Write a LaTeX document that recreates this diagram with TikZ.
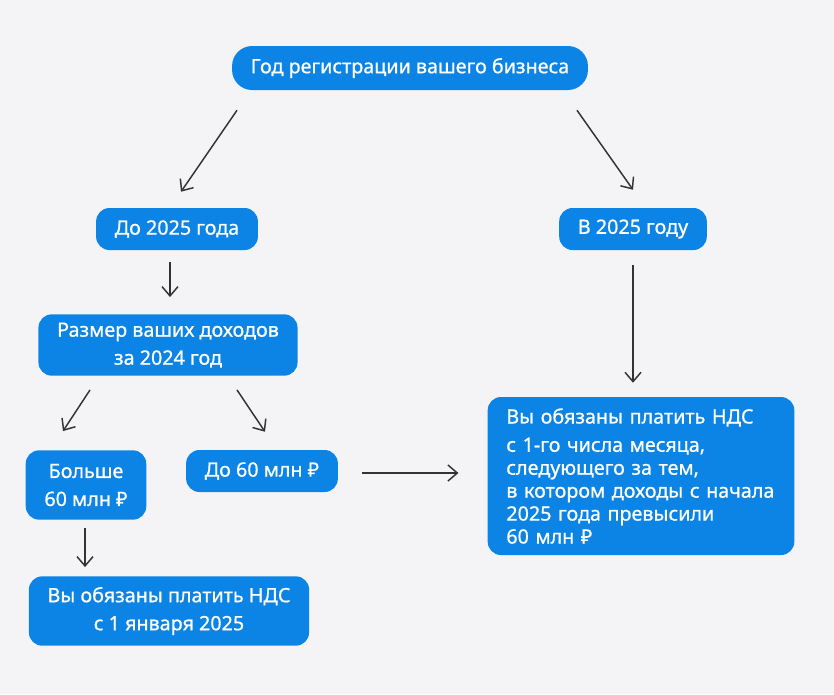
\documentclass[tikz,border=0pt]{standalone}
\usepackage{fontspec}
\setmainfont{Noto Sans}[BoldFont={Noto Sans}, BoldFeatures={FakeBold=0.8}]
\usetikzlibrary{positioning,arrows.meta}
\definecolor{boxblue}{HTML}{0B84E5}
\definecolor{pagegray}{HTML}{F4F4F7}
\definecolor{arrowgray}{HTML}{333333}

\begin{document}
\begin{tikzpicture}[x=0.75pt, y=-0.75pt, >={Straight Barb[length=7pt,width=12pt]},
  every node/.style={fill=boxblue, text=white, rounded corners=10pt, font=\fontsize{14.8}{21}\selectfont\bfseries, align=center, inner xsep=14pt, inner ysep=6pt, minimum height=31.5pt},
  arr/.style={->, line width=1.1pt, draw=arrowgray}]
  \fill[pagegray] (0,0) rectangle (834,694);
  \useasboundingbox (0,0) rectangle (834,694);

  \node[rounded corners=15pt, minimum height=33pt] (year) at (410,68) {Год регистрации вашего бизнеса};
  \node (before) at (177,229) {До 2025 года};
  \node (in2025) at (633,229) {В 2025 году};
  \node[minimum height=46pt] (income) at (168,345) {Размер ваших доходов\\за 2024 год};
  \node[minimum height=52pt] (more) at (86,485) {Больше\\60 млн ₽};
  \node (upto) at (262,471) {До 60 млн ₽};
  \node[minimum height=52pt] (vatjan) at (169,611) {Вы обязаны платить НДС\\с 1 января 2025};
  \node[align=left, text width=202pt, minimum height=118.5pt, font=\fontsize{14.8}{17.2}\selectfont\bfseries] (vatmonth) at (641,476)
    {Вы обязаны платить НДС\\[4pt]с 1-го числа месяца,\\следующего за тем,\\в котором доходы с начала\\2025 года превысили\\60 млн ₽};

  \draw[arr] ([shift={(-173,20)}]year.south) -- ([shift={(4,-16)}]before.north);
  \draw[arr] ([shift={(167,20)}]year.south) -- ([shift={(0,-18)}]in2025.north);
  \draw[arr] ([shift={(-7,12)}]before.south) -- ([shift={(2,-17)}]income.north);
  \draw[arr] ([shift={(-78,14)}]income.south) -- ([shift={(-23,-19)}]more.north);
  \draw[arr] ([shift={(69,14)}]income.south) -- ([shift={(3,-18)}]upto.north);
  \draw[arr] ([shift={(0,15)}]in2025.south) -- ([shift={(-8,-14)}]vatmonth.north);
  \draw[arr] ([shift={(-1,8)}]more.south) -- ([shift={(-84,-9)}]vatjan.north);
  \draw[arr] ([shift={(24,2)}]upto.east) -- ([shift={(-29,-3)}]vatmonth.west);
\end{tikzpicture}
\end{document}
